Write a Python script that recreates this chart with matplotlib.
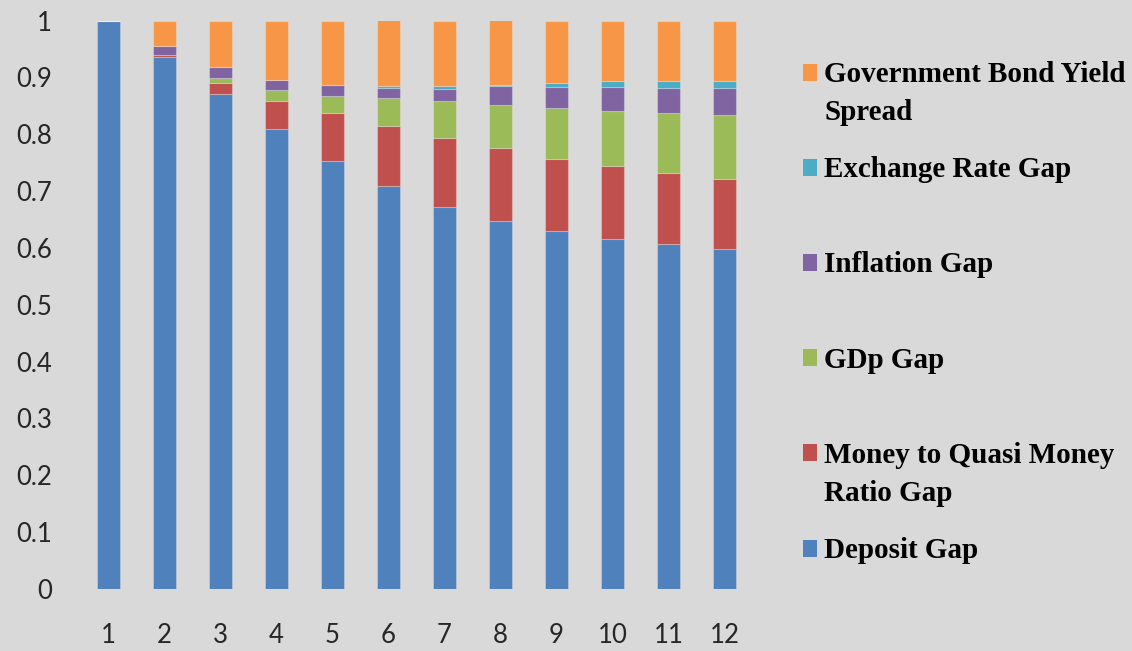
import numpy as np
import matplotlib
matplotlib.use("Agg")
import matplotlib.pyplot as plt
from matplotlib.patches import Rectangle

periods = [str(i) for i in range(1, 13)]

deposit = [1.0, 0.936, 0.871, 0.809, 0.753, 0.709, 0.672, 0.648, 0.629, 0.616, 0.607, 0.598]
money_quasi = [0.0, 0.004, 0.0185, 0.050, 0.084, 0.106, 0.122, 0.127, 0.127, 0.128, 0.124, 0.124]
gdp = [0.0, 0.0, 0.010, 0.018, 0.031, 0.048, 0.065, 0.077, 0.090, 0.096, 0.106, 0.112]
inflation = [0.0, 0.0156, 0.0185, 0.019, 0.019, 0.0184, 0.021, 0.032, 0.0376, 0.0436, 0.044, 0.047]
exchange = [0.0, 0.0, 0.0, 0.0, 0.0, 0.003, 0.004, 0.0034, 0.007, 0.0094, 0.012, 0.012]
bond_spread = [0.0, 0.044, 0.082, 0.104, 0.113, 0.116, 0.116, 0.113, 0.109, 0.107, 0.107, 0.107]

series = [deposit, money_quasi, gdp, inflation, exchange, bond_spread]
names = ["Deposit Gap", "Money to Quasi Money\nRatio Gap", "GDp Gap",
         "Inflation Gap", "Exchange Rate Gap", "Government Bond Yield\nSpread"]
colors = ["#4F81BD", "#C0504D", "#9BBB59", "#8064A2", "#4BACC6", "#F79646"]

bg = "#D9D9D9"
fig = plt.figure(figsize=(11.32, 6.51), dpi=100, facecolor=bg)
ax = fig.add_axes([0.0707, 0.0952, 0.5943, 0.8733], facecolor=bg)

x = np.arange(1, 13)
bottom = np.zeros(12)
for vals, c in zip(series, colors):
    v = np.array(vals)
    ax.bar(x, v, width=0.41, bottom=bottom, color=c,
           edgecolor=(1, 1, 1, 0.25), linewidth=0.8)
    bottom += v

ax.set_xlim(0.5, 12.5)
ax.set_ylim(0, 1)
ax.set_xticks(x)
ax.set_xticklabels(periods)
ax.set_yticks(np.arange(0, 1.01, 0.1))
ax.set_yticklabels(["0", "0.1", "0.2", "0.3", "0.4", "0.5", "0.6", "0.7", "0.8", "0.9", "1"])
ax.tick_params(length=0, labelsize=18.5, colors="#262626")
ax.tick_params(axis="y", pad=20)
ax.tick_params(axis="x", pad=24.5)
for lab in ax.get_xticklabels() + ax.get_yticklabels():
    lab.set_family("Lato")
for s in ax.spines.values():
    s.set_visible(False)

# legend, drawn by hand so the marker sits on the first text line
W, H = 1132, 651
top_y = 72
step = 95.2
line_h = 38
for i, (name, c) in enumerate(zip(names[::-1], colors[::-1])):
    yc = top_y + i * step
    fig.patches.append(Rectangle((803 / W, 1 - (yc + 8.5) / H), 14 / W, 17 / H,
                                 transform=fig.transFigure, facecolor=c,
                                 edgecolor="none"))
    for k, line in enumerate(name.split("\n")):
        fig.text(824 / W, 1 - (yc + 10 + k * line_h) / H, line, ha="left",
                 va="baseline", family="Liberation Serif", weight="bold",
                 fontsize=21, color="black")

fig.savefig("out.png", dpi=100, facecolor=bg)
